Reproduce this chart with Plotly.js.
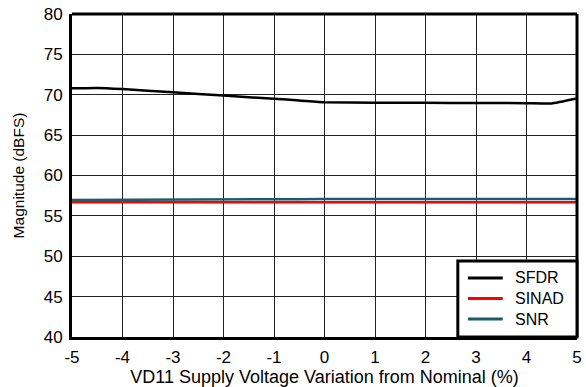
<!DOCTYPE html>
<html>
<head>
<meta charset="utf-8">
<script src="https://cdn.plot.ly/plotly-3.0.1.min.js"></script>
<style>html,body{margin:0;padding:0;background:#fff;}#chart{width:586px;height:387px;}</style>
</head>
<body>
<div id="chart"></div>
<script>
const xVals = [-5, -4.5, -4, -3, -2, -1, -0.5, 0, 1, 2, 3, 4, 4.5, 5];
const sfdr  = [70.8, 70.85, 70.7, 70.3, 69.9, 69.5, 69.3, 69.07, 69.02, 69.0, 68.98, 68.96, 68.93, 69.55];
const sinad = [56.68, 56.68, 56.68, 56.69, 56.7, 56.7, 56.7, 56.7, 56.7, 56.7, 56.7, 56.7, 56.7, 56.7];
const snr   = [56.98, 56.98, 56.99, 57.0, 57.02, 57.05, 57.07, 57.1, 57.1, 57.1, 57.1, 57.1, 57.1, 57.1];
const xTicks = [-5, -4, -3, -2, -1, 0, 1, 2, 3, 4, 5];
const yTicks = [40, 45, 50, 55, 60, 65, 70, 75, 80];
const seriesNames = ['SFDR', 'SINAD', 'SNR'];
const seriesColors = ['#000000', '#ff0000', '#1d5c6b'];

const traces = [
  {x: xVals, y: sfdr, name: seriesNames[0], mode: 'lines', line: {color: seriesColors[0], width: 2.5, shape: 'spline', smoothing: 0.3}},
  {x: xVals, y: sinad, name: seriesNames[1], mode: 'lines', line: {color: seriesColors[1], width: 2.5}},
  {x: xVals, y: snr, name: seriesNames[2], mode: 'lines', line: {color: seriesColors[2], width: 2.5}}
];

const fam = 'Liberation Sans, Arial, sans-serif';
const tickFont = {family: fam, size: 17, color: '#000'};

// Legend box drawn in paper coordinates
const legBox = {x0: 0.764, x1: 1.0, y0: 0, y1: 0.235};
const legRows = [0.183, 0.119, 0.056];
const shapes = [
  {type: 'line', xref: 'paper', yref: 'paper', x0: 0, x1: 1, y0: 1, y1: 1, line: {color: '#000', width: 3}},
  {type: 'line', xref: 'paper', yref: 'paper', x0: 1, x1: 1, y0: 0, y1: 1, line: {color: '#000', width: 3}},
  {type: 'rect', xref: 'paper', yref: 'paper', x0: legBox.x0, x1: legBox.x1, y0: legBox.y0, y1: legBox.y1,
   fillcolor: '#fff', line: {color: '#000', width: 3}}
];
seriesNames.forEach((n, i) => {
  shapes.push({type: 'line', xref: 'paper', yref: 'paper', x0: 0.784, x1: 0.853, y0: legRows[i], y1: legRows[i],
               line: {color: seriesColors[i], width: 3}});
});
const annotations = [{
  xref: 'paper', yref: 'paper', x: 0.873, y: legRows[1], xanchor: 'left', yanchor: 'middle', align: 'left',
  text: seriesNames.join('<br>'), showarrow: false, font: {family: fam, size: 16, color: '#000'}
}];

const layout = {
  width: 586, height: 387,
  margin: {l: 72, r: 9, t: 14, b: 50},
  paper_bgcolor: '#fff', plot_bgcolor: '#fff',
  font: tickFont,
  showlegend: false,
  xaxis: {
    range: [-5, 5], tickvals: xTicks, ticktext: xTicks.map(String),
    showgrid: true, gridcolor: '#222', gridwidth: 1,
    zeroline: false, showline: true, linecolor: '#000', linewidth: 3, mirror: false,
    ticks: 'outside', ticklen: 3, tickcolor: 'rgba(0,0,0,0)', tickfont: tickFont,
    title: {text: 'VD11 Supply Voltage Variation from Nominal (%)', font: {family: fam, size: 18, color: '#000'}, standoff: 2}
  },
  yaxis: {
    range: [40, 80], tickvals: yTicks, ticktext: yTicks.map(String),
    showgrid: true, gridcolor: '#222', gridwidth: 1,
    zeroline: false, showline: true, linecolor: '#000', linewidth: 3, mirror: false,
    ticks: 'outside', ticklen: 3, tickcolor: 'rgba(0,0,0,0)', tickfont: tickFont,
    title: {text: 'Magnitude (dBFS)', font: {family: fam, size: 15.5, color: '#000'}, standoff: 16}
  },
  shapes: shapes,
  annotations: annotations
};
Plotly.newPlot('chart', traces, layout, {staticPlot: true, displayModeBar: false});
</script>
</body>
</html>
